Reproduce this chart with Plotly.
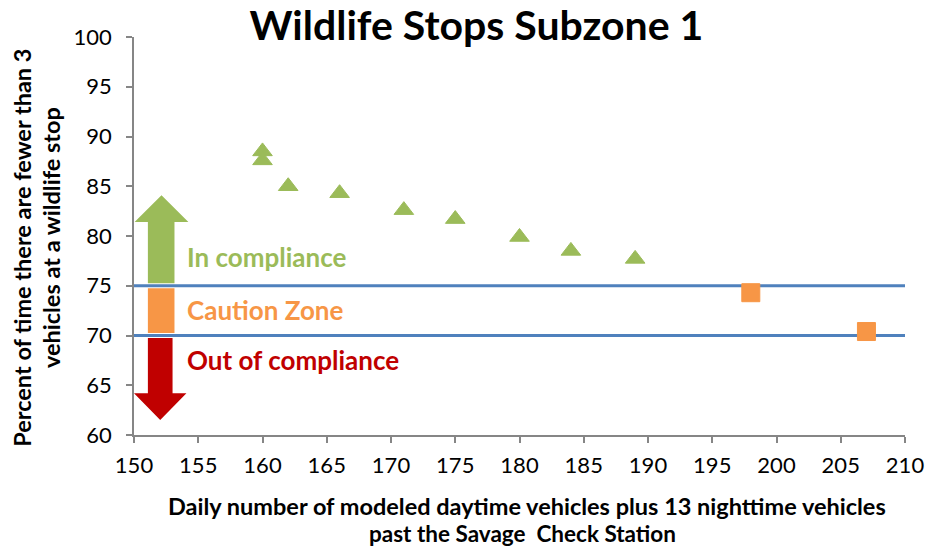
import plotly.graph_objects as go

# Modeled traffic vs. share of time with fewer than 3 vehicles at a wildlife stop
compliant_x = [160, 160, 162, 166, 171, 175, 180, 184, 189]
compliant_y = [88.5, 87.6, 85.0, 84.3, 82.6, 81.7, 79.9, 78.5, 77.7]
caution_x = [198, 207]
caution_y = [74.3, 70.4]

# Compliance thresholds (percent)
upper_threshold = 75
lower_threshold = 70

x_ticks = list(range(150, 211, 5))
y_ticks = list(range(60, 101, 5))

GREEN = "#9BBB59"
ORANGE = "#F79646"
RED = "#C00000"
BLUE = "#4F81BD"
AXIS = "#868686"
FONT = "Lato"

fig = go.Figure()

for level in (upper_threshold, lower_threshold):
    fig.add_trace(go.Scatter(
        x=[x_ticks[0], x_ticks[-1]], y=[level, level], mode="lines",
        line=dict(color=BLUE, width=3), hoverinfo="skip", showlegend=False,
    ))

fig.add_trace(go.Scatter(
    x=compliant_x, y=compliant_y, mode="markers",
    marker=dict(symbol="triangle-up", size=17, color=GREEN,
                line=dict(color=GREEN, width=1)),
    showlegend=False,
))
fig.add_trace(go.Scatter(
    x=caution_x, y=caution_y, mode="markers",
    marker=dict(symbol="square", size=18, color=ORANGE,
                line=dict(color=ORANGE, width=1)),
    showlegend=False,
))

# Zone indicator: up arrow, caution block, down arrow (left edge of the plot)
sx0, sx1 = 151.08, 153.15      # shaft
hx0, hx1 = 150.05, 154.23      # arrow head
cx = (hx0 + hx1) / 2
gap = 0.25
up_head_base, up_tip = 81.4, 84.1
down_head_base, down_tip = 64.2, 61.5

up_path = (f"M {sx0},{upper_threshold + gap} L {sx1},{upper_threshold + gap} "
           f"L {sx1},{up_head_base} L {hx1},{up_head_base} L {cx},{up_tip} "
           f"L {hx0},{up_head_base} L {sx0},{up_head_base} Z")
down_path = (f"M {sx0},{lower_threshold - gap} L {sx1 - 0.15},{lower_threshold - gap} "
             f"L {sx1 - 0.15},{down_head_base} L {hx1 - 0.15},{down_head_base} "
             f"L {cx - 0.1},{down_tip} L {hx0 - 0.05},{down_head_base} "
             f"L {sx0},{down_head_base} Z")

fig.add_shape(type="path", path=up_path, xref="x", yref="y",
              fillcolor=GREEN, line=dict(width=0), layer="below")
fig.add_shape(type="rect", x0=sx0, x1=sx1, y0=lower_threshold + gap,
              y1=upper_threshold - gap, xref="x", yref="y",
              fillcolor=ORANGE, line=dict(width=0), layer="below")
fig.add_shape(type="path", path=down_path, xref="x", yref="y",
              fillcolor=RED, line=dict(width=0), layer="below")

zone_labels = [
    ("In compliance", 77.9, GREEN),
    ("Caution Zone", 72.55, ORANGE),
    ("Out of compliance", 67.5, RED),
]
for text, y, color in zone_labels:
    fig.add_annotation(x=154.0, y=y, xref="x", yref="y", text=f"<b>{text}</b>",
                       showarrow=False, xanchor="left", yanchor="middle",
                       font=dict(family=FONT, size=26, color=color))

# Axis titles as separate lines for exact spacing
x_title = ["Daily number of modeled daytime vehicles plus 13 nighttime vehicles",
           "past the Savage  Check Station"]
y_title = ["Percent of time there are fewer than 3",
           "vehicles at a wildlife stop"]
for text, xp, yp, size in zip(x_title, [0.510, 0.504], [-0.178, -0.248], [23.5, 22.5]):
    fig.add_annotation(x=xp, y=yp, xref="paper", yref="paper",
                       text=f"<b>{text}</b>", showarrow=False,
                       xanchor="center", yanchor="middle",
                       font=dict(family=FONT, size=size, color="black"))
for text, xp, yp in zip(y_title, [-0.1455, -0.1075], [0.47, 0.495]):
    fig.add_annotation(x=xp, y=yp, xref="paper", yref="paper",
                       text=f"<b>{text}</b>", showarrow=False, textangle=-90,
                       xanchor="center", yanchor="middle",
                       font=dict(family=FONT, size=23.5, color="black"))

fig.update_layout(
    width=936, height=548,
    margin=dict(l=134, r=23, t=37, b=113),
    plot_bgcolor="white", paper_bgcolor="white",
    title=dict(text="<b>Wildlife Stops Subzone 1</b>", x=0.509, y=0.954,
               xref="container", yref="container",
               xanchor="center", yanchor="middle",
               font=dict(family=FONT, size=41, color="black")),
    xaxis=dict(range=[150, 210], tickvals=x_ticks, showgrid=False, zeroline=False,
               showline=True, linecolor=AXIS, linewidth=1.5,
               ticks="outside", ticklen=6, tickcolor=AXIS, tickwidth=1.5,
               ticklabelstandoff=4,
               tickfont=dict(family=FONT, size=22, color="black")),
    yaxis=dict(range=[60, 100], tickvals=y_ticks, showgrid=False, zeroline=False,
               showline=True, linecolor=AXIS, linewidth=1.5,
               ticks="outside", ticklen=6, tickcolor=AXIS, tickwidth=1.5,
               ticklabelstandoff=10,
               tickfont=dict(family=FONT, size=22, color="black")),
)

fig.write_html("out.html")
